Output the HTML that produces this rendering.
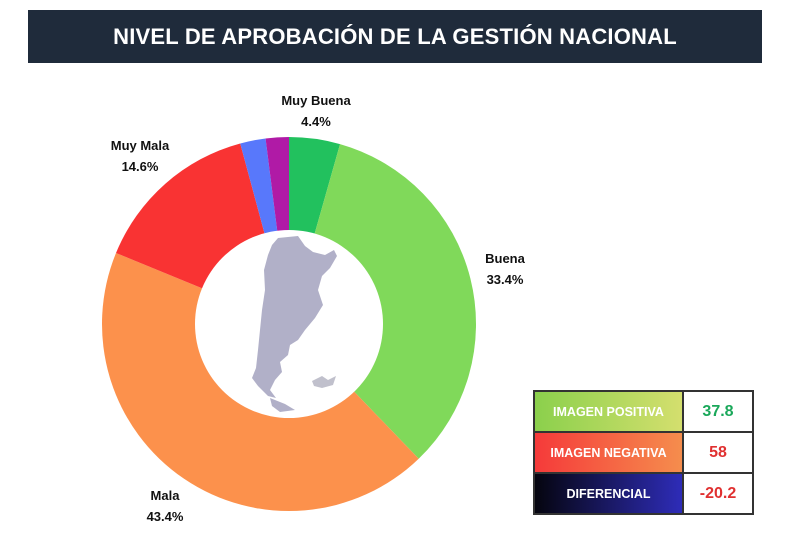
<!DOCTYPE html>
<html><head><meta charset="utf-8"><style>
body{margin:0;width:790px;height:548px;background:#fff;font-family:"Liberation Sans",sans-serif;position:relative;overflow:hidden}
.title{position:absolute;left:28px;top:10px;width:734px;height:53px;background:#1f2b3b;color:#fff;font-weight:bold;font-size:22px;line-height:53px;text-align:center;letter-spacing:0.2px}
.lbl{position:absolute;font-weight:bold;font-size:13px;text-align:center;color:#111;line-height:21px}
table{position:absolute;left:533px;top:390px;border-collapse:collapse;border:2px solid #333}
td{border:2px solid #333;height:39px;font-weight:bold;text-align:center;padding:0}
td.k{width:147px;color:#fff;font-size:12.5px}
td.v{width:68px;font-size:16px;background:#fff}
</style></head><body>
<div class="title">NIVEL DE APROBACIÓN DE LA GESTIÓN NACIONAL</div>
<svg id="s" width="790" height="548" style="position:absolute;left:0;top:0"></svg>
<div class="lbl" style="left:266px;top:90px;width:100px">Muy Buena<br>4.4%</div>
<div class="lbl" style="left:90px;top:135px;width:100px">Muy Mala<br>14.6%</div>
<div class="lbl" style="left:455px;top:248px;width:100px">Buena<br>33.4%</div>
<div class="lbl" style="left:115px;top:485px;width:100px">Mala<br>43.4%</div>
<table>
<tr><td class="k" style="background:linear-gradient(90deg,#8bd04c,#d4df6e)">IMAGEN POSITIVA</td><td class="v" style="color:#1aa85a">37.8</td></tr>
<tr><td class="k" style="background:linear-gradient(90deg,#f53a3a,#f58d4d)">IMAGEN NEGATIVA</td><td class="v" style="color:#e03030">58</td></tr>
<tr><td class="k" style="background:linear-gradient(90deg,#05050f,#2e2cb8)">DIFERENCIAL</td><td class="v" style="color:#e03030">-20.2</td></tr>
</table>
<script>
var s=document.getElementById('s'),cx=289,cy=324,R=187,r=94;
var segs=[[0,15.84,'#22c15e'],[15.84,136.08,'#80d95a'],[136.08,292.32,'#fc914c'],[292.32,344.88,'#f93333'],[344.88,352.8,'#5878fb'],[352.8,360,'#b01aa6']];
function p(a,rad){a=(a-90)*Math.PI/180;return [cx+rad*Math.cos(a),cy+rad*Math.sin(a)];}
var h='';
segs.forEach(function(g){var a=p(g[0],R),b=p(g[1],R),l=(g[1]-g[0])>180?1:0;
h+='<path d="M'+cx+' '+cy+'L'+a[0]+' '+a[1]+'A'+R+' '+R+' 0 '+l+' 1 '+b[0]+' '+b[1]+'Z" fill="'+g[2]+'"/>';});
h+='<circle cx="'+cx+'" cy="'+cy+'" r="'+r+'" fill="#fff"/>';
h+='<path fill="#b1b0c8" d="M278 238L298 236L305 246L313 252L325 255L334 250L337 256L330 268L322 276L318 290L323 305L315 318L305 330L298 340L290 345L288 355L280 362L282 372L275 380L270 390L276 398L268 396L258 386L252 378L256 368L258 350L260 330L262 310L265 290L264 270L268 255L272 245Z"/>';
h+='<path fill="#b1b0c8" d="M270 398L285 404L295 410L280 412L272 406Z"/>';
h+='<path fill="#c0c0cc" d="M312 381L322 376L328 380L336 376L333 385L322 388L314 386Z"/>';
s.innerHTML=h;
</script>
</body></html>
